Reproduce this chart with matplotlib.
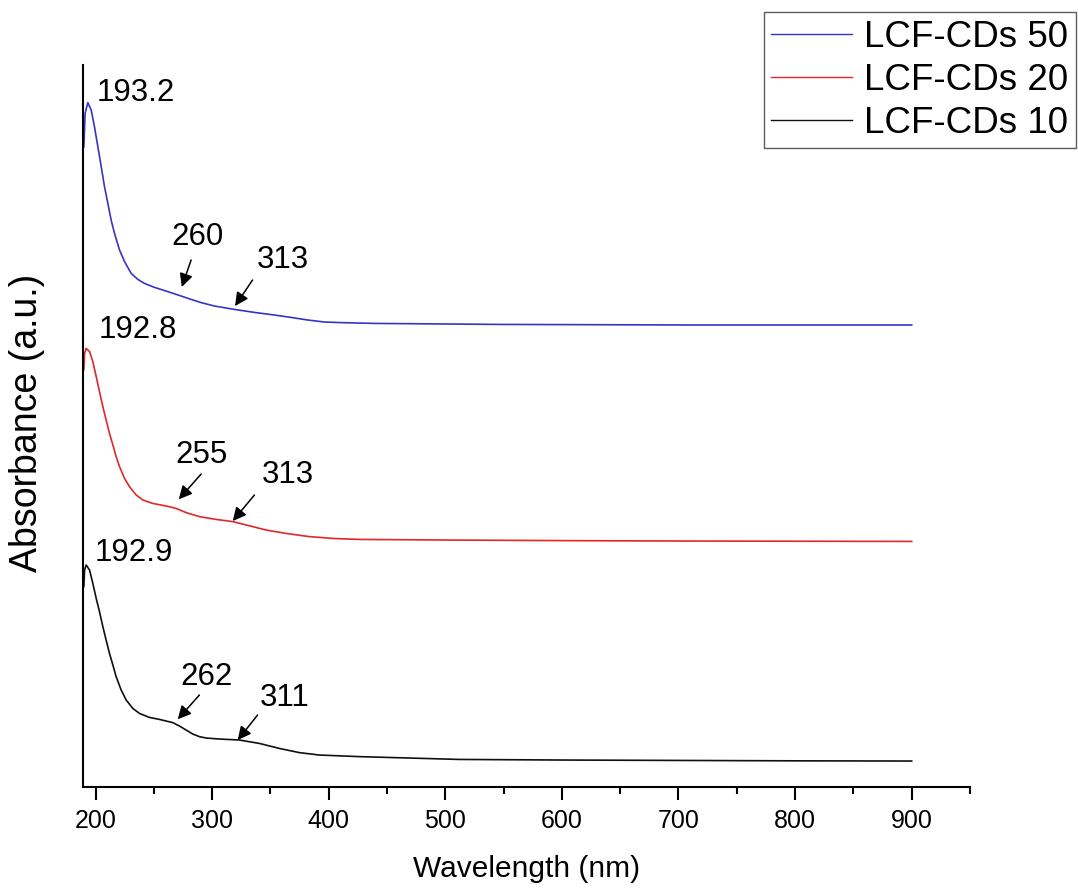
import matplotlib
matplotlib.use("Agg")
import matplotlib.pyplot as plt
from matplotlib.ticker import MultipleLocator

plt.rcParams['font.family'] = ['Liberation Sans', 'DejaVu Sans']

WIDTH, HEIGHT, DPI = 1078, 888, 100

# UV-vis spectra (offset absorbance, a.u.)
wl_50 = [190, 191.1, 193.4, 196.3, 199.1, 202.0, 204.9, 207.7, 210.6, 213.4,
         216.3, 220.6, 224.9, 230.6, 236.3, 242.0, 250.6, 262.0, 273.4, 282.0,
         290.6, 302.0, 319.1, 336.3, 353.4, 367.7, 382.0, 396.3, 410.6, 439.1,
         546, 717, 900]
abs_50 = [3.20, 3.368, 3.422, 3.385, 3.302, 3.202, 3.102, 3.002, 2.918, 2.835,
          2.768, 2.685, 2.627, 2.568, 2.538, 2.518, 2.498, 2.477, 2.455, 2.438,
          2.422, 2.405, 2.388, 2.373, 2.36, 2.348, 2.335, 2.325, 2.322, 2.318,
          2.313, 2.31, 2.31]

wl_20 = [190, 190.6, 192.0, 194.9, 197.7, 200.6, 203.4, 206.3, 209.1, 212.0,
         214.9, 217.7, 220.6, 224.9, 229.1, 234.9, 240.6, 249.1, 260.6, 269.1,
         277.7, 289.1, 303.4, 317.7, 334.9, 346.3, 363.4, 383.4, 403.4, 426.3,
         500, 600, 700, 800, 900]
abs_20 = [2.085, 2.168, 2.193, 2.177, 2.127, 2.052, 1.977, 1.902, 1.835, 1.768,
          1.71, 1.652, 1.602, 1.543, 1.502, 1.46, 1.435, 1.418, 1.405, 1.393,
          1.372, 1.352, 1.338, 1.327, 1.302, 1.285, 1.268, 1.252, 1.243, 1.238,
          1.235, 1.232, 1.23, 1.229, 1.228]

wl_10 = [190, 190.6, 192.0, 194.9, 197.7, 200.6, 203.4, 206.3, 209.1, 212.0,
         214.9, 217.7, 222.0, 226.3, 232.0, 237.7, 246.3, 254.9, 266.3, 272.0,
         277.7, 283.4, 289.1, 294.9, 306.3, 323.4, 340.6, 357.7, 374.9, 392.0,
         426.3, 512, 600, 700, 800, 900]
abs_10 = [1.002, 1.085, 1.11, 1.085, 1.018, 0.943, 0.877, 0.802, 0.735, 0.668,
          0.61, 0.552, 0.485, 0.435, 0.393, 0.368, 0.348, 0.338, 0.322, 0.305,
          0.285, 0.265, 0.252, 0.245, 0.24, 0.235, 0.218, 0.193, 0.172, 0.16,
          0.152, 0.138, 0.135, 0.133, 0.131, 0.13]

labels = ["LCF-CDs 50", "LCF-CDs 20", "LCF-CDs 10"]
colors = ["#3535c4", "#e02828", "#101010"]

# peak labels: (text, x, y)
peak_labels = [("193.2", 200.6, 3.468), ("192.8", 202.8, 2.285), ("192.9", 199, 1.17)]
# shoulder labels: (text, text x, text y, arrow start, arrow tip)
shoulders = [
    ("260", 287.7, 2.751, (282, 2.635), (274, 2.50)),
    ("313", 360.5, 2.635, (334.7, 2.535), (319.7, 2.405)),
    ("255", 290.6, 1.66, (290.6, 1.565), (271.4, 1.4385)),
    ("313", 364.8, 1.56, (336.3, 1.46), (317.7, 1.33)),
    ("262", 294.9, 0.5515, (289.1, 0.46), (270.5, 0.3385)),
    ("311", 362, 0.4435, (339, 0.36), (322, 0.235)),
]

fig = plt.figure(figsize=(WIDTH / DPI, HEIGHT / DPI), dpi=DPI)
ax = fig.add_axes([0.0767, 0.1137, 0.8231, 0.8131])

lines = []
for wl, ab, c, lab in zip([wl_50, wl_20, wl_10], [abs_50, abs_20, abs_10], colors, labels):
    ln, = ax.plot(wl, ab, color=c, lw=1.2, label=lab)
    lines.append(ln)

for txt, x, y in peak_labels:
    ax.text(x, y, txt, fontsize=22.5, ha='left', va='center')

for txt, tx, ty, start, tip in shoulders:
    ax.text(tx, ty, txt, fontsize=22.5, ha='center', va='center')
    ax.annotate('', xy=tip, xytext=start,
                arrowprops=dict(arrowstyle='-|>', color='k', lw=1.1,
                                mutation_scale=20, shrinkA=0, shrinkB=0))

ax.set_xlim(189, 950)
ax.set_ylim(0, 3.61)
ax.xaxis.set_minor_locator(MultipleLocator(50))
ax.set_xticks(range(200, 901, 100))
ax.set_yticks([])
ax.tick_params(axis='x', which='major', length=9.5, width=1.5, labelsize=18, pad=6)
ax.tick_params(axis='x', which='minor', length=5, width=1.5)

for side in ['top', 'right']:
    ax.spines[side].set_visible(False)
for side in ['left', 'bottom']:
    ax.spines[side].set_linewidth(1.5)

ax.set_xlabel("Wavelength (nm)", fontsize=21.5, labelpad=16)
ax.set_ylabel("Absorbance (a.u.)", fontsize=27)
ax.yaxis.set_label_coords(-0.043, 0.505)

leg = fig.legend(handles=lines, loc='upper right', bbox_to_anchor=(0.998, 0.986),
                 fontsize=26.5, frameon=True, fancybox=False, borderaxespad=0,
                 handlelength=2.2, handletextpad=0.33, labelspacing=0.22,
                 borderpad=0.2)
leg.get_frame().set_edgecolor('#333333')
leg.get_frame().set_linewidth(1.0)
for l in leg.get_lines():
    l.set_linewidth(1.0)

fig.savefig("out.png", dpi=DPI)
